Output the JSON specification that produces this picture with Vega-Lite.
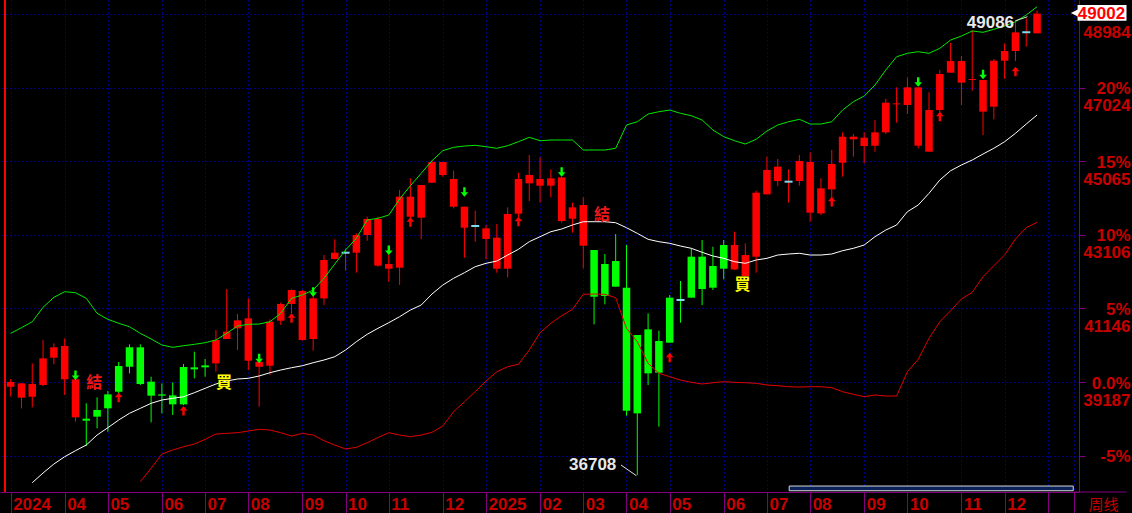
{
"$schema": "https://vega.github.io/schema/vega-lite/v6.json",
"width": 1079,
"height": 492,
"autosize": {"type": "none"},
"padding": {"left": 0, "top": 0, "right": 53, "bottom": 21},
"background": "#000000",
"config": {"view": {"stroke": null}, "font": "Liberation Sans"},
"resolve": {"axis": {"x": "independent", "y": "independent"}},
"datasets": {
"wk": [
{"i":0,"o":39063,"h":39267,"l":38796,"c":39187,"u":40484,"s":"L"},
{"i":1,"o":39151,"h":39151,"l":38485,"c":38770,"u":40634,"s":"L"},
{"i":2,"o":38796,"h":39684,"l":38512,"c":39134,"u":40793,"m":36504,"s":"L"},
{"i":3,"o":39107,"h":40306,"l":39080,"c":39817,"u":41177,"m":36763,"s":"L"},
{"i":4,"o":39835,"h":40217,"l":39658,"c":40111,"u":41443,"m":37002,"s":"L"},
{"i":5,"o":40146,"h":40350,"l":38841,"c":39258,"u":41593,"m":37197,"s":"L"},
{"i":6,"o":39258,"h":39302,"l":38130,"c":38246,"u":41566,"m":37357,"s":"L"},
{"i":7,"o":38210,"h":38619,"l":37482,"c":38157,"u":41417,"m":37509,"s":"S"},
{"i":8,"o":38264,"h":38779,"l":37953,"c":38441,"u":41017,"m":37775,"s":"S"},
{"i":9,"o":38486,"h":38947,"l":37864,"c":38858,"u":40857,"m":37970,"s":"S"},
{"i":10,"o":38929,"h":39720,"l":38885,"c":39613,"u":40751,"m":38175,"s":"S"},
{"i":11,"o":39596,"h":40190,"l":39418,"c":40111,"u":40660,"m":38353,"s":"S"},
{"i":12,"o":40111,"h":40190,"l":39107,"c":39134,"u":40484,"m":38486,"lo":36531,"s":"S"},
{"i":13,"o":39196,"h":39329,"l":38113,"c":38823,"u":40333,"m":38620,"lo":36888,"s":"S"},
{"i":14,"o":38823,"h":39151,"l":38352,"c":38858,"u":40173,"m":38708,"lo":37269,"s":"S"},
{"i":15,"o":38832,"h":39178,"l":38308,"c":38592,"u":40111,"m":38753,"lo":37375,"s":"S"},
{"i":16,"o":38592,"h":39667,"l":38574,"c":39587,"u":40154,"m":38795,"lo":37463,"s":"S"},
{"i":17,"o":39578,"h":39995,"l":39285,"c":39524,"u":40191,"m":38902,"lo":37535,"s":"S"},
{"i":18,"o":39578,"h":39800,"l":39329,"c":39631,"u":40234,"m":39019,"lo":37660,"s":"S"},
{"i":19,"o":39684,"h":40572,"l":39462,"c":40306,"u":40306,"m":39134,"lo":37802,"s":"L"},
{"i":20,"o":40333,"h":41665,"l":40333,"c":40528,"u":40484,"m":39214,"lo":37820,"s":"L"},
{"i":21,"o":40617,"h":40999,"l":40040,"c":40830,"u":40679,"m":39267,"lo":37836,"s":"L"},
{"i":22,"o":40883,"h":41416,"l":39507,"c":39755,"u":40724,"m":39286,"lo":37882,"s":"L"},
{"i":23,"o":39729,"h":39862,"l":38530,"c":39596,"u":40732,"m":39347,"lo":37927,"s":"L"},
{"i":24,"o":39622,"h":40856,"l":39374,"c":40794,"u":40793,"m":39435,"lo":37908,"s":"L"},
{"i":25,"o":40821,"h":41300,"l":40706,"c":41265,"u":41017,"m":39507,"lo":37836,"s":"L"},
{"i":26,"o":41265,"h":41656,"l":41016,"c":41638,"u":41417,"m":39568,"lo":37748,"s":"L"},
{"i":27,"o":41611,"h":41638,"l":40288,"c":40306,"u":41505,"m":39621,"lo":37820,"s":"L"},
{"i":28,"o":40333,"h":41656,"l":40022,"c":41416,"u":41638,"m":39701,"lo":37775,"s":"L"},
{"i":29,"o":41416,"h":42570,"l":41238,"c":42437,"u":41950,"m":39773,"lo":37623,"s":"L"},
{"i":30,"o":42464,"h":42988,"l":42455,"c":42632,"u":42331,"m":39861,"lo":37509,"s":"L"},
{"i":31,"o":42632,"h":42748,"l":42153,"c":42632,"u":42704,"m":40040,"lo":37402,"s":"L"},
{"i":32,"o":42632,"h":43148,"l":42100,"c":43103,"u":43015,"m":40261,"lo":37447,"s":"L"},
{"i":33,"o":43103,"h":43592,"l":42952,"c":43529,"u":43503,"m":40458,"lo":37570,"s":"L"},
{"i":34,"o":43529,"h":43592,"l":42260,"c":42286,"u":43548,"m":40618,"lo":37709,"s":"L"},
{"i":35,"o":42331,"h":42570,"l":41860,"c":42206,"u":43636,"m":40767,"lo":37836,"s":"L"},
{"i":36,"o":42233,"h":44302,"l":41771,"c":44124,"u":44062,"m":40927,"lo":37775,"s":"L"},
{"i":37,"o":44124,"h":44613,"l":43325,"c":43592,"u":44416,"m":41105,"lo":37730,"s":"L"},
{"i":38,"o":43565,"h":44435,"l":42997,"c":44435,"u":44747,"m":41238,"lo":37775,"s":"L"},
{"i":39,"o":44497,"h":45101,"l":44497,"c":45048,"u":45082,"m":41531,"lo":37847,"s":"L"},
{"i":40,"o":45048,"h":45048,"l":44657,"c":44702,"u":45349,"m":41771,"lo":38015,"s":"L"},
{"i":41,"o":44595,"h":44817,"l":43814,"c":43858,"u":45439,"m":41950,"lo":38396,"s":"L"},
{"i":42,"o":43858,"h":43858,"l":42499,"c":43298,"u":45474,"m":42099,"lo":38662,"s":"L"},
{"i":43,"o":43343,"h":43751,"l":42926,"c":43343,"u":45493,"m":42259,"lo":38929,"s":"L"},
{"i":44,"o":43281,"h":43370,"l":42455,"c":42997,"u":45455,"m":42349,"lo":39214,"s":"L"},
{"i":45,"o":43032,"h":43396,"l":42100,"c":42206,"u":45413,"m":42410,"lo":39461,"s":"L"},
{"i":46,"o":42206,"h":43840,"l":41975,"c":43663,"u":45482,"m":42570,"lo":39595,"s":"L"},
{"i":47,"o":43671,"h":44764,"l":43574,"c":44595,"u":45589,"m":42722,"lo":39659,"s":"L"},
{"i":48,"o":44702,"h":45234,"l":44009,"c":44480,"u":45706,"m":42925,"lo":40040,"s":"L"},
{"i":49,"o":44417,"h":45172,"l":43964,"c":44595,"u":45615,"m":43058,"lo":40500,"s":"L"},
{"i":50,"o":44613,"h":44852,"l":44107,"c":44417,"u":45634,"m":43191,"lo":40751,"s":"L"},
{"i":51,"o":44639,"h":44639,"l":43432,"c":43476,"u":45634,"m":43263,"lo":40953,"s":"L"},
{"i":52,"o":43538,"h":43964,"l":43165,"c":43840,"u":45634,"m":43370,"lo":41124,"s":"L"},
{"i":53,"o":43902,"h":44107,"l":42215,"c":42819,"u":45368,"m":43457,"lo":41523,"s":"L"},
{"i":54,"o":42704,"h":42704,"l":40723,"c":41460,"u":45368,"m":43457,"lo":41531,"s":"S"},
{"i":55,"o":41478,"h":42597,"l":41256,"c":42331,"u":45368,"m":43457,"lo":41523,"s":"S"},
{"i":56,"o":42410,"h":43130,"l":41727,"c":41727,"u":45413,"m":43431,"lo":41433,"s":"S"},
{"i":57,"o":41700,"h":42837,"l":38290,"c":38423,"u":46034,"m":43298,"lo":40618,"s":"S"},
{"i":58,"o":38352,"h":40439,"l":36708,"c":40439,"u":46121,"m":43148,"lo":40261,"s":"S"},
{"i":59,"o":40590,"h":41016,"l":39107,"c":39418,"u":46327,"m":42989,"lo":39685,"s":"S"},
{"i":60,"o":39436,"h":40555,"l":37997,"c":40279,"u":46388,"m":42925,"lo":39419,"s":"S"},
{"i":61,"o":40235,"h":41505,"l":40235,"c":41434,"u":46433,"m":42882,"lo":39328,"s":"S"},
{"i":62,"o":41372,"h":41878,"l":40768,"c":41372,"u":46345,"m":42810,"lo":39240,"s":"S"},
{"i":63,"o":41434,"h":42748,"l":41434,"c":42526,"u":46281,"m":42749,"lo":39179,"s":"S"},
{"i":64,"o":42526,"h":42970,"l":41238,"c":41665,"u":46167,"m":42642,"lo":39134,"s":"S"},
{"i":65,"o":41700,"h":42792,"l":41638,"c":42277,"u":45900,"m":42544,"lo":39168,"s":"S"},
{"i":66,"o":42206,"h":42970,"l":41922,"c":42837,"u":45722,"m":42482,"lo":39195,"s":"S"},
{"i":67,"o":42837,"h":43192,"l":42171,"c":42188,"u":45615,"m":42392,"lo":39179,"s":"L"},
{"i":68,"o":42011,"h":42881,"l":41993,"c":42570,"u":45527,"m":42349,"lo":39168,"s":"L"},
{"i":69,"o":42526,"h":44284,"l":42100,"c":44231,"u":45653,"m":42437,"lo":39152,"s":"L"},
{"i":70,"o":44186,"h":45190,"l":44186,"c":44835,"u":45874,"m":42482,"lo":39107,"s":"L"},
{"i":71,"o":44924,"h":45128,"l":44408,"c":44542,"u":46034,"m":42570,"lo":39088,"s":"L"},
{"i":72,"o":44524,"h":44852,"l":43964,"c":44524,"u":46121,"m":42597,"lo":39062,"s":"L"},
{"i":73,"o":44542,"h":45234,"l":44417,"c":45074,"u":46185,"m":42616,"lo":39054,"s":"L"},
{"i":74,"o":45048,"h":45305,"l":43458,"c":43698,"u":46060,"m":42570,"lo":39062,"s":"L"},
{"i":75,"o":43680,"h":44613,"l":43636,"c":44346,"u":46060,"m":42570,"lo":39062,"s":"L"},
{"i":76,"o":44320,"h":45368,"l":43858,"c":44995,"u":46121,"m":42597,"lo":39035,"s":"L"},
{"i":77,"o":45030,"h":45838,"l":44657,"c":45723,"u":46433,"m":42685,"lo":38929,"s":"L"},
{"i":78,"o":45723,"h":45794,"l":45190,"c":45652,"u":46654,"m":42749,"lo":38859,"s":"L"},
{"i":79,"o":45696,"h":45838,"l":45012,"c":45474,"u":46806,"m":42837,"lo":38795,"s":"L"},
{"i":80,"o":45483,"h":46167,"l":45323,"c":45838,"u":47099,"m":43058,"lo":38841,"s":"L"},
{"i":81,"o":45838,"h":46735,"l":45794,"c":46628,"u":47499,"m":43236,"lo":38814,"s":"L"},
{"i":82,"o":46584,"h":47037,"l":46096,"c":46610,"u":47853,"m":43370,"lo":38814,"s":"L"},
{"i":83,"o":46566,"h":47303,"l":46327,"c":47037,"u":47944,"m":43724,"lo":39461,"s":"L"},
{"i":84,"o":47037,"h":47037,"l":45412,"c":45483,"u":47986,"m":43902,"lo":39792,"s":"L"},
{"i":85,"o":45323,"h":46904,"l":45323,"c":46433,"u":47944,"m":44214,"lo":40351,"s":"L"},
{"i":86,"o":46433,"h":47499,"l":46184,"c":47392,"u":48077,"m":44568,"lo":40793,"s":"L"},
{"i":87,"o":47428,"h":48227,"l":47428,"c":47738,"u":48298,"m":44816,"lo":41086,"s":"L"},
{"i":88,"o":47738,"h":47872,"l":46566,"c":47161,"u":48404,"m":44968,"lo":41398,"s":"L"},
{"i":89,"o":47232,"h":48564,"l":46948,"c":47258,"u":48538,"m":45101,"lo":41577,"s":"L"},
{"i":90,"o":47232,"h":47232,"l":45767,"c":46389,"u":48503,"m":45261,"lo":41992,"s":"L"},
{"i":91,"o":46522,"h":47792,"l":46184,"c":47747,"u":48583,"m":45413,"lo":42285,"s":"L"},
{"i":92,"o":47747,"h":48209,"l":47259,"c":48005,"u":48671,"m":45589,"lo":42570,"s":"L"},
{"i":93,"o":48005,"h":48831,"l":47738,"c":48502,"u":48785,"m":45812,"lo":42997,"s":"L"},
{"i":94,"o":48502,"h":48875,"l":48120,"c":48502,"u":48964,"m":46060,"lo":43298,"s":"L"},
{"i":95,"o":48476,"h":49086,"l":48476,"c":49002,"u":49185,"m":46300,"lo":43441,"s":"L"}
],
"sig": [
{"i":6,"p":39240,"d":"dn"},{"i":23,"p":39684,"d":"dn"},{"i":28,"p":41460,"d":"dn"},{"i":35,"p":42570,"d":"dn"},
{"i":42,"p":44124,"d":"dn"},{"i":51,"p":44657,"d":"dn"},{"i":84,"p":47055,"d":"dn"},{"i":90,"p":47250,"d":"dn"},
{"i":10,"p":38903,"d":"up"},{"i":16,"p":38548,"d":"up"},{"i":26,"p":41016,"d":"up"},{"i":37,"p":43574,"d":"up"},
{"i":47,"p":43592,"d":"up"},{"i":61,"p":39968,"d":"up"},{"i":76,"p":44124,"d":"up"},{"i":86,"p":46389,"d":"up"},
{"i":93,"p":47587,"d":"up"}
],
"lab": [
{"i":7,"p":39174,"t":"結"},{"i":54,"p":43649,"t":"結"},{"i":19,"p":39160,"t":"買"},{"i":67,"p":41784,"t":"買"}
],
"ext": [
{"i":95,"p":49086,"t":"49086","k":"hi"},{"i":58,"p":36708,"t":"36708","k":"lo"}
],
"ldr": [
{"i":93.01,"p":48812,"i2":94.11,"p2":48919},
{"i":56.49,"p":36976,"i2":57.92,"p2":36691}
]
},
"layer": [
{
"data": {"name": "wk"},
"mark": {"type": "rule", "strokeWidth": 1},
"encoding": {
"x": {"field": "i", "type": "quantitative", "scale": {"domain": [-0.5227, 98.42], "nice": false, "zero": false},
 "axis": {"orient": "bottom", "values": [0,5,9,14,18,22,27,31,35,40,44,49,53,57,61,66,70,74,79,83,88,92,96,98.42],
  "labelExpr": "['2024','04','05','06','07','08','09','10','11','12','2025','02','03','04','05','06','07','08','09','10','11','12'][indexof([0,5,9,14,18,22,27,31,35,40,44,49,53,57,61,66,70,74,79,83,88,92], datum.value)] || ''",
  "grid": true, "gridColor": "#0000ff", "gridDash": [1,3], "gridWidth": 1, "gridOpacity": 1,
  "domainColor": "#800080", "domainWidth": 1, "tickColor": "#800080", "tickSize": 21, "tickWidth": 1,
  "labelColor": "#c80000", "labelFont": "Liberation Sans", "labelFontSize": 17, "labelFontWeight": "bold",
  "labelAlign": "left", "labelBaseline": "top", "labelPadding": -17, "labelOffset": 2,
  "labelOverlap": false, "labelFlush": false, "labelBound": false,
  "title": "周线", "titleColor": "#c00000", "titleFont": "Noto Sans CJK SC", "titleFontSize": 15, "titleFontWeight": "normal",
  "titleX": 1103, "titleY": 12, "titleAlign": "center", "titleBaseline": "middle", "titleAngle": 0}},
"y": {"field": "l", "type": "quantitative", "scale": {"domain": [36257, 49364], "nice": false, "zero": false},
 "axis": {"orient": "right", "values": [37227.65, 39187, 41146.35, 43105.7, 45065.05, 47024.4, 48983.75],
  "labelExpr": "datum.value < 38000 ? '-5%' : datum.value < 40000 ? ['0.0%','39187'] : datum.value < 42000 ? ['5%','41146'] : datum.value < 44000 ? ['10%','43106'] : datum.value < 46000 ? ['15%','45065'] : datum.value < 48000 ? ['20%','47024'] : ['','48984']",
  "title": null, "grid": true, "gridColor": "#0000ff", "gridDash": [1,3], "gridWidth": 1, "gridOpacity": 1,
  "domainColor": "#800080", "domainWidth": 1, "tickColor": "#800080", "tickSize": 6, "tickWidth": 1,
  "labelColor": "#c80000", "labelFont": "Liberation Sans", "labelFontSize": 17, "labelFontWeight": "bold",
  "labelAlign": "right", "labelBaseline": "top", "labelPadding": 45, "labelOffset": -7, "labelLineHeight": 17,
  "labelOverlap": false, "labelFlush": false, "labelBound": false}},
"y2": {"field": "h"},
"color": {"condition": {"test": "datum.s == 'S'", "value": "#00ff00"}, "value": "#ff0000"}
}
},
{
"data": {"name": "wk"},
"mark": {"type": "bar", "width": 7.5},
"encoding": {
"x": {"field": "i", "type": "quantitative", "axis": null},
"y": {"field": "o", "type": "quantitative", "axis": null},
"y2": {"field": "c"},
"color": {"condition": {"test": "datum.s == 'S'", "value": "#00ff00"}, "value": "#ff0000"}
}
},
{
"data": {"name": "wk"},
"transform": [{"filter": "datum.o == datum.c"}],
"mark": {"type": "tick", "orient": "horizontal", "color": "#7fdcec", "thickness": 2, "size": 8, "opacity": 1},
"encoding": {
"x": {"field": "i", "type": "quantitative", "axis": null},
"y": {"field": "c", "type": "quantitative", "axis": null}
}
},
{
"data": {"name": "wk"},
"mark": {"type": "line", "color": "#00e800", "strokeWidth": 1},
"encoding": {
"x": {"field": "i", "type": "quantitative", "axis": null},
"y": {"field": "u", "type": "quantitative", "axis": null}
}
},
{
"data": {"name": "wk"},
"mark": {"type": "line", "color": "#ffffff", "strokeWidth": 1},
"encoding": {
"x": {"field": "i", "type": "quantitative", "axis": null},
"y": {"field": "m", "type": "quantitative", "axis": null}
}
},
{
"data": {"name": "wk"},
"mark": {"type": "line", "color": "#e00000", "strokeWidth": 1},
"encoding": {
"x": {"field": "i", "type": "quantitative", "axis": null},
"y": {"field": "lo", "type": "quantitative", "axis": null}
}
},
{
"data": {"name": "sig"},
"transform": [{"filter": "datum.d == 'dn'"}],
"mark": {"type": "point", "shape": "M-1.2,-9.5L1.2,-9.5L1.2,-4.5L3.8,-4.5L0,0L-3.8,-4.5L-1.2,-4.5Z", "size": 4, "filled": true, "color": "#00ff00", "opacity": 1, "strokeWidth": 0},
"encoding": {
"x": {"field": "i", "type": "quantitative", "axis": null},
"y": {"field": "p", "type": "quantitative", "axis": null}
}
},
{
"data": {"name": "sig"},
"transform": [{"filter": "datum.d == 'up'"}],
"mark": {"type": "point", "shape": "M-1.2,9.5L1.2,9.5L1.2,4.5L3.8,4.5L0,0L-3.8,4.5L-1.2,4.5Z", "size": 4, "filled": true, "color": "#ff0000", "opacity": 1, "strokeWidth": 0},
"encoding": {
"x": {"field": "i", "type": "quantitative", "axis": null},
"y": {"field": "p", "type": "quantitative", "axis": null}
}
},
{
"data": {"name": "lab"},
"mark": {"type": "text", "align": "left", "baseline": "middle", "font": "Noto Sans CJK TC", "fontSize": 16, "fontWeight": "bold"},
"encoding": {
"x": {"field": "i", "type": "quantitative", "axis": null},
"y": {"field": "p", "type": "quantitative", "axis": null},
"text": {"field": "t"},
"color": {"condition": {"test": "datum.t == '買'", "value": "#ffff00"}, "value": "#f01818"}
}
},
{
"data": {"name": "ldr"},
"mark": {"type": "rule", "color": "#e0e0e0", "strokeWidth": 1},
"encoding": {
"x": {"field": "i", "type": "quantitative", "axis": null},
"y": {"field": "p", "type": "quantitative", "axis": null},
"x2": {"field": "i2"},
"y2": {"field": "p2"}
}
},
{
"data": {"name": "ext"},
"transform": [{"filter": "datum.k == 'hi'"}],
"mark": {"type": "text", "align": "right", "baseline": "alphabetic", "dx": -23, "dy": 18, "font": "Liberation Sans", "fontSize": 17, "fontWeight": "bold", "color": "#e8e8e8"},
"encoding": {
"x": {"field": "i", "type": "quantitative", "axis": null},
"y": {"field": "p", "type": "quantitative", "axis": null},
"text": {"field": "t"}
}
},
{
"data": {"name": "ext"},
"transform": [{"filter": "datum.k == 'lo'"}],
"mark": {"type": "text", "align": "right", "baseline": "alphabetic", "dx": -21, "dy": -5, "font": "Liberation Sans", "fontSize": 17, "fontWeight": "bold", "color": "#e8e8e8"},
"encoding": {
"x": {"field": "i", "type": "quantitative", "axis": null},
"y": {"field": "p", "type": "quantitative", "axis": null},
"text": {"field": "t"}
}
},
{
"data": {"values": [{}]},
"mark": {"type": "rect", "fill": "#ffffff", "stroke": null},
"encoding": {
"x": {"datum": 98.75, "type": "quantitative", "axis": null},
"x2": {"datum": 103.28},
"y": {"datum": 49230, "type": "quantitative", "axis": null},
"y2": {"datum": 48812}
}
},
{
"data": {"values": [{}]},
"mark": {"type": "point", "shape": "M1,-1L1,1L-1,0Z", "size": 64, "filled": true, "color": "#ffffff", "opacity": 1, "strokeWidth": 0},
"encoding": {
"x": {"datum": 98.5, "type": "quantitative", "axis": null},
"y": {"datum": 49021, "type": "quantitative", "axis": null}
}
},
{
"data": {"values": [{}]},
"mark": {"type": "text", "text": "49002", "align": "right", "baseline": "middle", "font": "Liberation Sans", "fontSize": 17, "fontWeight": "bold", "color": "#ff0000"},
"encoding": {
"x": {"datum": 103.15, "type": "quantitative", "axis": null},
"y": {"datum": 49002, "type": "quantitative", "axis": null}
}
},
{
"data": {"values": [{}]},
"mark": {"type": "rect", "fill": "#0a2058", "stroke": "#d8d8d8", "strokeWidth": 1},
"encoding": {
"x": {"datum": 72.06, "type": "quantitative", "axis": null},
"x2": {"datum": 98.35},
"y": {"datum": 36416, "type": "quantitative", "axis": null},
"y2": {"datum": 36291}
}
},
{
"data": {"values": [{}]},
"mark": {"type": "rule", "color": "#ff0000", "strokeWidth": 2},
"encoding": {
"x": {"datum": -0.5227, "type": "quantitative", "axis": null}
}
},
{
"data": {"values": [{}]},
"mark": {"type": "rule", "color": "#800080", "strokeWidth": 1},
"encoding": {
"x": {"datum": 98.42, "type": "quantitative", "axis": null},
"x2": {"datum": 103.28},
"y": {"datum": 36257, "type": "quantitative", "axis": null}
}
}
]
}
